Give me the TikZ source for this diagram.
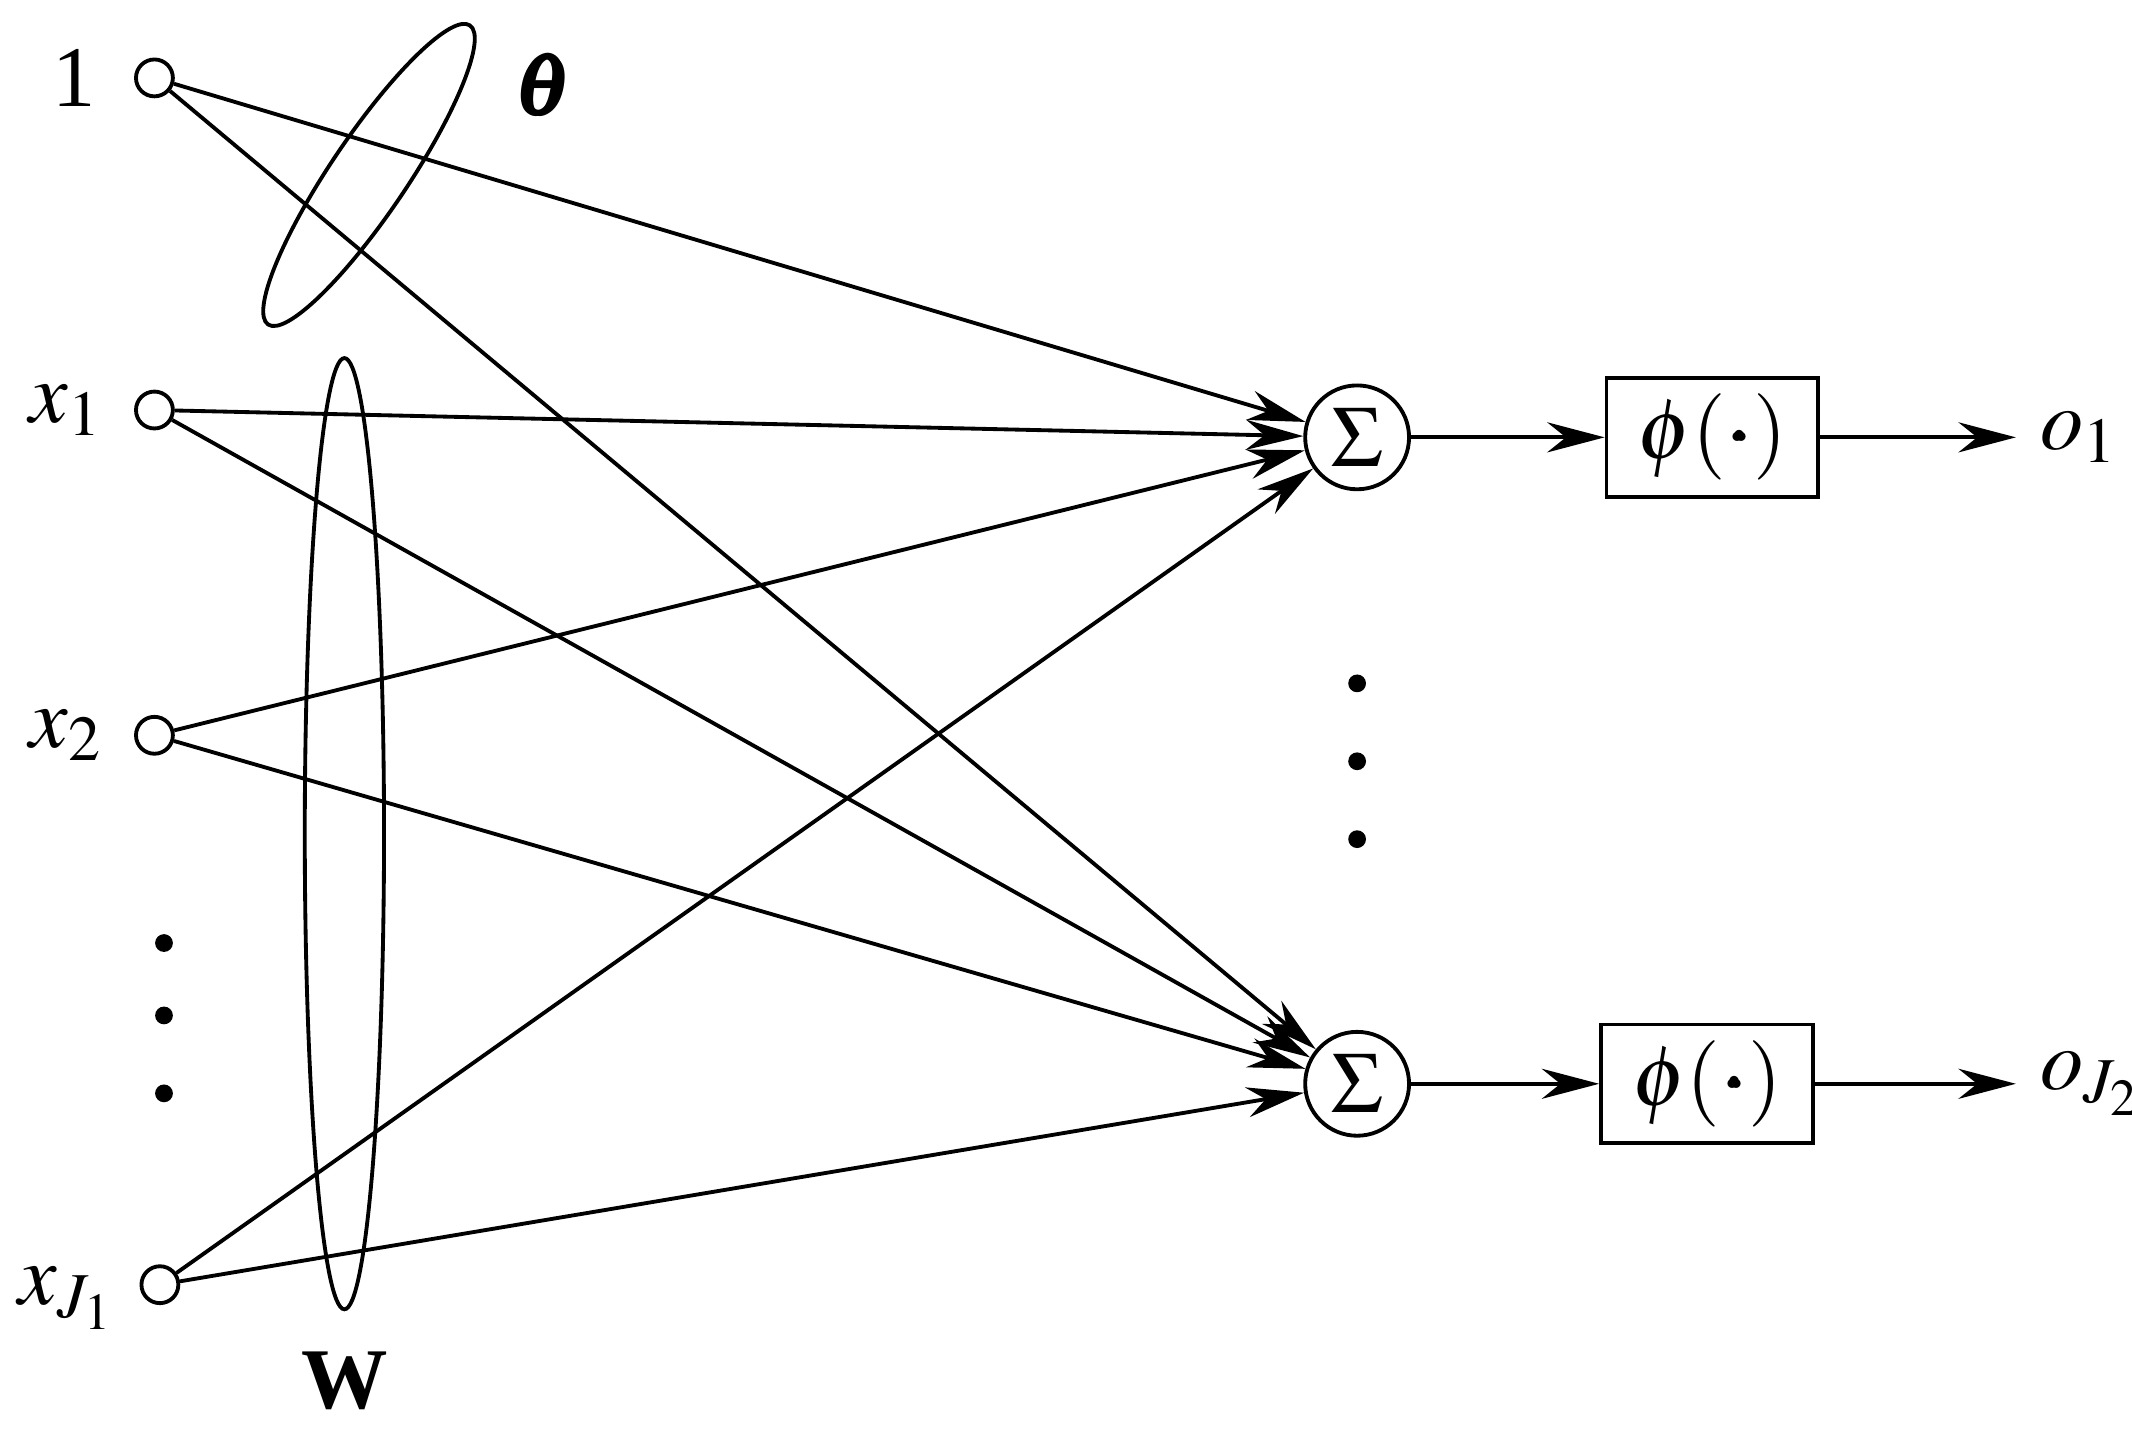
\documentclass[tikz,border=0pt]{standalone}
\usepackage{amsmath}
\usepackage{mathptmx}
\usepackage{bm}
\usepackage{fontspec}
\setmainfont{Liberation Serif}
\usetikzlibrary{arrows.meta,positioning}
\tikzset{
	>={Stealth[length=4.2mm,width=2.2mm]},
	input/.style={draw, circle, minimum size=0.27cm, inner sep=0pt, line width=0.8pt},
	summer/.style={draw, circle, minimum size=0.76cm, inner sep=0pt, line width=0.8pt},
	activ/.style={draw, rectangle, minimum width=1.55cm, minimum height=0.8cm, line width=0.8pt},
	weight/.style={->, line width=0.8pt},
	bigdot/.style={circle, fill=black, inner sep=0pt, minimum size=0.13cm},
}

\begin{document}
\begin{tikzpicture}[line width=0.8pt, font=\fontsize{18}{21}\selectfont]
\useasboundingbox (0,0) rectangle (15.6,-10.53);

%% inputs
\node[input] (in0) at (1.13,-0.57) {};
\node[left=0.15cm of in0] {1};
\node[input] (in1) at (1.13,-3.00) {};
\node[left=0.1cm of in1] {$x_1$};
\node[input] (in2) at (1.13,-5.38) {};
\node[left=0.1cm of in2] {$x_2$};
\node[input] (inJ) at (1.17,-9.40) {};
\node[left=0.05cm of inJ, yshift=-0.1cm] {$x_{J_1}$};

\foreach \y in {6.90,7.43,8.00} \node[bigdot] at (1.20,-\y) {};

%% summers
\node[summer] (s1) at (9.93,-3.20) {$\Sigma$};
\node[summer] (s2) at (9.93,-7.93) {$\Sigma$};
\foreach \y in {5.00,5.57,6.14} \node[bigdot] at (9.93,-\y) {};

%% activation
\node[activ] (f1) at (12.53,-3.20) {$\phi(\bm{\cdot})$};
\node[activ] (f2) at (12.49,-7.93) {$\phi(\bm{\cdot})$};
\coordinate (e1) at (14.75,-3.20);
\coordinate (e2) at (14.75,-7.93);
\node[right=0.05cm of e1] {$o_1$};
\node[right=0.05cm of e2] {$o_{J_2}$};

%% weights
\foreach \i in {in0,in1,in2,inJ} {
	\draw[weight] (\i) -- (s1);
	\draw[weight] (\i) -- (s2);
}
\draw[weight] (s1) -- (f1);
\draw[weight] (s2) -- (f2);
\draw[weight] (f1) -- (e1);
\draw[weight] (f2) -- (e2);

%% groupings
\draw[rotate around={56:(2.70,-1.28)}] (2.70,-1.28) ellipse (1.32cm and 0.28cm);
\node at (3.97,-0.62) {$\bm{\theta}$};
\draw (2.52,-6.10) ellipse (0.29cm and 3.48cm);
\node at (2.52,-10.10) {\textbf{W}};
\end{tikzpicture}
\end{document}
